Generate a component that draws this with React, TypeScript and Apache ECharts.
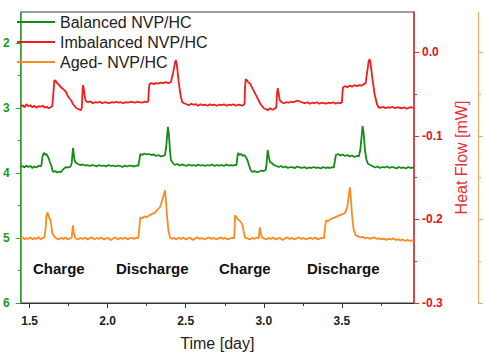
import React, { useEffect, useRef } from 'react';
import * as echarts from 'echarts';

const FONT = "'Liberation Sans', Arial, sans-serif";

const X_MIN = 1.443;
const X_MAX = 3.962;
const xMajorTicks = [1.5, 2.0, 2.5, 3.0, 3.5];
const xMinorTicks = [1.75, 2.25, 2.75, 3.25, 3.75];

const greenMin = 1.523;
const greenMax = 6;
const greenMajorTicks = [2, 3, 4, 5, 6];
const greenMinorTicks = [2.5, 3.5, 4.5, 5.5];

const heatMin = -0.3;
const heatMax = 0.048;
const heatMajorTicks = [-0.3, -0.2, -0.1, 0.0];
const heatMinorTicks = [-0.25, -0.15, -0.05];

const seriesNames = ['Balanced NVP/HC', 'Imbalanced NVP/HC', 'Aged- NVP/HC'];
const annotations = ['Charge', 'Discharge', 'Charge', 'Discharge'];

const balancedData: [number, number][] = [
  [1.443, 3.908], [1.455, 3.892], [1.468, 3.915], [1.48, 3.885], [1.492, 3.908], [1.505, 3.892],
  [1.518, 3.923], [1.53, 3.9], [1.545, 3.915], [1.558, 3.885], [1.57, 3.9], [1.576, 3.877],
  [1.582, 3.754], [1.588, 3.708], [1.595, 3.692], [1.602, 3.723], [1.608, 3.708], [1.615, 3.738],
  [1.622, 3.77], [1.63, 3.83], [1.64, 3.892], [1.646, 3.954], [1.652, 3.985], [1.665, 3.97],
  [1.677, 3.992], [1.69, 3.977], [1.7, 3.985], [1.709, 3.962], [1.72, 3.93], [1.735, 3.908],
  [1.75, 3.915], [1.762, 3.9], [1.77, 3.846], [1.775, 3.7], [1.778, 3.615], [1.782, 3.69],
  [1.788, 3.8], [1.797, 3.846], [1.81, 3.862], [1.825, 3.877], [1.84, 3.869], [1.855, 3.885],
  [1.87, 3.877], [1.885, 3.892], [1.9, 3.877], [1.915, 3.885], [1.93, 3.9], [1.945, 3.877],
  [1.96, 3.892], [1.975, 3.885], [1.99, 3.9], [2.005, 3.877], [2.02, 3.892], [2.035, 3.885],
  [2.05, 3.9], [2.065, 3.885], [2.08, 3.892], [2.095, 3.908], [2.11, 3.885], [2.125, 3.9],
  [2.14, 3.885], [2.155, 3.892], [2.17, 3.9], [2.185, 3.885], [2.196, 3.892], [2.203, 3.8],
  [2.209, 3.708], [2.22, 3.723], [2.235, 3.7], [2.25, 3.715], [2.265, 3.708], [2.28, 3.723],
  [2.295, 3.715], [2.31, 3.738], [2.325, 3.723], [2.34, 3.746], [2.355, 3.738], [2.367, 3.723],
  [2.375, 3.6], [2.38, 3.45], [2.386, 3.292], [2.392, 3.4], [2.399, 3.65], [2.405, 3.8],
  [2.418, 3.846], [2.43, 3.877], [2.445, 3.862], [2.46, 3.885], [2.475, 3.869], [2.49, 3.877],
  [2.505, 3.892], [2.52, 3.869], [2.535, 3.885], [2.55, 3.877], [2.565, 3.892], [2.58, 3.869],
  [2.595, 3.885], [2.61, 3.877], [2.625, 3.892], [2.64, 3.877], [2.655, 3.885], [2.67, 3.869],
  [2.685, 3.892], [2.7, 3.877], [2.715, 3.885], [2.73, 3.877], [2.745, 3.892], [2.76, 3.869],
  [2.775, 3.885], [2.79, 3.877], [2.805, 3.885], [2.815, 3.877], [2.825, 3.877], [2.83, 3.78],
  [2.835, 3.692], [2.845, 3.723], [2.855, 3.708], [2.865, 3.738], [2.875, 3.723], [2.885, 3.754],
  [2.895, 3.8], [2.905, 3.877], [2.915, 3.95], [2.925, 3.985], [2.94, 3.97], [2.955, 3.985],
  [2.97, 3.977], [2.985, 3.962], [3.0, 3.97], [3.012, 3.954], [3.018, 3.85], [3.025, 3.646],
  [3.032, 3.75], [3.04, 3.83], [3.051, 3.846], [3.065, 3.877], [3.08, 3.892], [3.095, 3.908],
  [3.11, 3.892], [3.125, 3.915], [3.14, 3.9], [3.155, 3.923], [3.17, 3.908], [3.185, 3.915],
  [3.2, 3.923], [3.215, 3.9], [3.23, 3.915], [3.245, 3.923], [3.26, 3.908], [3.275, 3.931],
  [3.29, 3.915], [3.305, 3.923], [3.32, 3.908], [3.335, 3.923], [3.35, 3.915], [3.365, 3.931],
  [3.38, 3.908], [3.395, 3.923], [3.41, 3.915], [3.425, 3.923], [3.44, 3.908], [3.449, 3.915],
  [3.456, 3.8], [3.462, 3.723], [3.475, 3.708], [3.49, 3.73], [3.505, 3.715], [3.52, 3.738],
  [3.535, 3.723], [3.55, 3.746], [3.565, 3.73], [3.58, 3.754], [3.595, 3.738], [3.608, 3.746],
  [3.618, 3.65], [3.626, 3.45], [3.633, 3.277], [3.64, 3.4], [3.648, 3.65], [3.658, 3.8],
  [3.668, 3.862], [3.684, 3.877], [3.7, 3.9], [3.715, 3.915], [3.73, 3.9], [3.745, 3.923],
  [3.76, 3.908], [3.775, 3.915], [3.79, 3.9], [3.805, 3.923], [3.82, 3.908], [3.835, 3.915],
  [3.85, 3.931], [3.865, 3.908], [3.88, 3.923], [3.895, 3.915], [3.91, 3.931], [3.925, 3.908],
  [3.94, 3.923], [3.962, 3.915],
];

const imbalancedData: [number, number][] = [
  [1.443, -0.0647], [1.455, -0.0635], [1.468, -0.0659], [1.48, -0.0623], [1.492, -0.0647],
  [1.505, -0.0635], [1.518, -0.0659], [1.53, -0.0641], [1.545, -0.0665], [1.558, -0.0647],
  [1.57, -0.0653], [1.585, -0.0641], [1.598, -0.0665], [1.61, -0.0653], [1.622, -0.0671],
  [1.635, -0.0659], [1.645, -0.0647], [1.652, -0.05], [1.658, -0.0347], [1.665, -0.0335],
  [1.671, -0.0359], [1.677, -0.0371], [1.69, -0.0395], [1.7, -0.0419], [1.709, -0.0431],
  [1.722, -0.0455], [1.734, -0.0479], [1.745, -0.0527], [1.755, -0.0551], [1.766, -0.0575],
  [1.778, -0.0623], [1.79, -0.0647], [1.8, -0.0671], [1.815, -0.0683], [1.829, -0.0695],
  [1.835, -0.0659], [1.84, -0.0431], [1.843, -0.0395], [1.848, -0.0455], [1.855, -0.0551],
  [1.861, -0.0587], [1.875, -0.0599], [1.89, -0.0587], [1.905, -0.0611], [1.92, -0.0599],
  [1.935, -0.0605], [1.95, -0.0593], [1.965, -0.0611], [1.98, -0.0599], [1.995, -0.0605],
  [2.01, -0.0611], [2.025, -0.0599], [2.04, -0.0605], [2.055, -0.0593], [2.07, -0.0605],
  [2.085, -0.0599], [2.1, -0.0611], [2.115, -0.0599], [2.13, -0.0605], [2.145, -0.0593],
  [2.16, -0.0599], [2.175, -0.0605], [2.19, -0.0593], [2.2, -0.0599], [2.22, -0.0605],
  [2.235, -0.0593], [2.25, -0.0599], [2.26, -0.0587], [2.264, -0.045], [2.268, -0.0383],
  [2.28, -0.0371], [2.295, -0.0383], [2.31, -0.0371], [2.325, -0.0377], [2.34, -0.0365],
  [2.355, -0.0371], [2.37, -0.0359], [2.39, -0.0371], [2.405, -0.0359], [2.42, -0.024],
  [2.432, -0.012], [2.437, -0.0096], [2.443, -0.0144], [2.455, -0.0359], [2.468, -0.0527],
  [2.478, -0.0599], [2.49, -0.0611], [2.505, -0.0623], [2.52, -0.0635], [2.535, -0.0617],
  [2.55, -0.0629], [2.565, -0.0623], [2.58, -0.0641], [2.595, -0.0623], [2.61, -0.0635],
  [2.625, -0.0629], [2.64, -0.0641], [2.655, -0.0623], [2.67, -0.0635], [2.685, -0.0629],
  [2.7, -0.0641], [2.715, -0.0629], [2.73, -0.0635], [2.745, -0.0623], [2.76, -0.0641],
  [2.775, -0.0629], [2.79, -0.0635], [2.805, -0.0623], [2.82, -0.0641], [2.835, -0.0629],
  [2.85, -0.0635], [2.862, -0.0641], [2.872, -0.0629], [2.877, -0.0611], [2.88, -0.042],
  [2.884, -0.0323], [2.892, -0.0335], [2.9, -0.0359], [2.91, -0.0371], [2.92, -0.0407],
  [2.93, -0.0443], [2.94, -0.0479], [2.95, -0.0515], [2.96, -0.0551], [2.97, -0.0587],
  [2.98, -0.0623], [2.99, -0.0647], [3.0, -0.0671], [3.015, -0.0683], [3.025, -0.0695],
  [3.04, -0.0671], [3.055, -0.0689], [3.07, -0.0677], [3.08, -0.0659], [3.085, -0.05],
  [3.089, -0.0431], [3.095, -0.0491], [3.102, -0.0575], [3.114, -0.0599], [3.13, -0.0611],
  [3.145, -0.0599], [3.16, -0.0605], [3.175, -0.0593], [3.19, -0.0599], [3.205, -0.0587],
  [3.22, -0.0581], [3.235, -0.0593], [3.25, -0.0605], [3.265, -0.0611], [3.28, -0.0599],
  [3.295, -0.0617], [3.31, -0.0605], [3.325, -0.0611], [3.34, -0.0599], [3.355, -0.0617],
  [3.37, -0.0605], [3.385, -0.0611], [3.4, -0.0617], [3.415, -0.0605], [3.43, -0.0611],
  [3.445, -0.0599], [3.46, -0.0617], [3.475, -0.0605], [3.49, -0.0611], [3.5, -0.0605],
  [3.504, -0.048], [3.508, -0.0419], [3.52, -0.0407], [3.535, -0.0419], [3.55, -0.0401],
  [3.565, -0.0413], [3.58, -0.0395], [3.595, -0.0407], [3.61, -0.0395], [3.625, -0.0401],
  [3.64, -0.0383], [3.652, -0.0371], [3.662, -0.024], [3.672, -0.0108], [3.677, -0.0084],
  [3.683, -0.012], [3.695, -0.0311], [3.71, -0.0503], [3.725, -0.0623], [3.734, -0.0659],
  [3.75, -0.0665], [3.765, -0.0653], [3.78, -0.0671], [3.795, -0.0659], [3.81, -0.0665],
  [3.825, -0.0653], [3.84, -0.0671], [3.855, -0.0659], [3.87, -0.0665], [3.885, -0.0671],
  [3.9, -0.0659], [3.915, -0.0677], [3.93, -0.0665], [3.945, -0.0659], [3.962, -0.0671],
];

const agedData: [number, number][] = [
  [1.443, -0.2228], [1.455, -0.2216], [1.468, -0.224], [1.48, -0.2222], [1.492, -0.2234],
  [1.505, -0.2216], [1.518, -0.224], [1.53, -0.2222], [1.545, -0.2234], [1.558, -0.221],
  [1.57, -0.224], [1.582, -0.2222], [1.595, -0.2216], [1.603, -0.21], [1.608, -0.196],
  [1.614, -0.1916], [1.62, -0.1952], [1.627, -0.1988], [1.633, -0.2], [1.64, -0.209],
  [1.646, -0.2168], [1.658, -0.2204], [1.671, -0.2228], [1.685, -0.224], [1.7, -0.2222],
  [1.715, -0.2234], [1.73, -0.2216], [1.745, -0.224], [1.76, -0.2228], [1.77, -0.2216],
  [1.775, -0.212], [1.778, -0.2072], [1.782, -0.215], [1.79, -0.221], [1.797, -0.2228],
  [1.81, -0.224], [1.825, -0.2222], [1.84, -0.2234], [1.855, -0.2216], [1.87, -0.224],
  [1.885, -0.2228], [1.9, -0.2216], [1.915, -0.224], [1.93, -0.2222], [1.945, -0.2234],
  [1.96, -0.2216], [1.975, -0.224], [1.99, -0.2228], [2.005, -0.2222], [2.02, -0.2246],
  [2.035, -0.2228], [2.05, -0.2216], [2.065, -0.224], [2.08, -0.2222], [2.095, -0.2234],
  [2.11, -0.2216], [2.125, -0.224], [2.14, -0.2228], [2.155, -0.2222], [2.17, -0.2234],
  [2.185, -0.2216], [2.196, -0.2228], [2.203, -0.21], [2.209, -0.1976], [2.22, -0.1988],
  [2.235, -0.1964], [2.25, -0.1976], [2.265, -0.1952], [2.28, -0.194], [2.291, -0.1928],
  [2.305, -0.1916], [2.32, -0.188], [2.335, -0.1856], [2.345, -0.18], [2.354, -0.1737],
  [2.36, -0.17], [2.367, -0.1653], [2.373, -0.176], [2.38, -0.195], [2.388, -0.212],
  [2.399, -0.2216], [2.41, -0.2234], [2.425, -0.2222], [2.44, -0.224], [2.455, -0.2222],
  [2.47, -0.2234], [2.485, -0.2216], [2.5, -0.224], [2.515, -0.2228], [2.53, -0.2222],
  [2.545, -0.2246], [2.56, -0.2228], [2.575, -0.2216], [2.59, -0.2234], [2.605, -0.2222],
  [2.62, -0.224], [2.635, -0.2228], [2.65, -0.2216], [2.665, -0.2234], [2.68, -0.2222],
  [2.695, -0.224], [2.71, -0.2228], [2.725, -0.2216], [2.74, -0.2234], [2.755, -0.2222],
  [2.77, -0.224], [2.785, -0.2228], [2.8, -0.2222], [2.81, -0.2228], [2.813, -0.21],
  [2.816, -0.1952], [2.825, -0.1976], [2.835, -0.2], [2.85, -0.2024], [2.862, -0.206],
  [2.872, -0.215], [2.88, -0.2216], [2.895, -0.2228], [2.91, -0.224], [2.925, -0.2222],
  [2.94, -0.2234], [2.955, -0.2216], [2.968, -0.2228], [2.972, -0.215], [2.975, -0.2096],
  [2.98, -0.216], [2.988, -0.221], [3.0, -0.2228], [3.015, -0.224], [3.03, -0.2222],
  [3.045, -0.2234], [3.06, -0.2216], [3.075, -0.224], [3.09, -0.2228], [3.105, -0.2222],
  [3.12, -0.2246], [3.135, -0.2228], [3.15, -0.2216], [3.165, -0.2234], [3.18, -0.2222],
  [3.195, -0.224], [3.21, -0.2228], [3.225, -0.2216], [3.24, -0.2234], [3.255, -0.2222],
  [3.27, -0.224], [3.285, -0.2228], [3.3, -0.2222], [3.315, -0.2234], [3.33, -0.2216],
  [3.345, -0.224], [3.36, -0.2228], [3.375, -0.2222], [3.386, -0.2228], [3.392, -0.21],
  [3.399, -0.2012], [3.41, -0.2024], [3.425, -0.2], [3.44, -0.1988], [3.455, -0.1976],
  [3.47, -0.1964], [3.485, -0.1952], [3.5, -0.194], [3.515, -0.1928], [3.525, -0.1904],
  [3.535, -0.185], [3.545, -0.17], [3.551, -0.1617], [3.558, -0.175], [3.565, -0.195],
  [3.575, -0.212], [3.589, -0.2192], [3.605, -0.2204], [3.62, -0.2216], [3.635, -0.221],
  [3.65, -0.2228], [3.665, -0.2216], [3.68, -0.2234], [3.695, -0.2222], [3.71, -0.2216],
  [3.725, -0.2234], [3.74, -0.2228], [3.755, -0.224], [3.77, -0.2228], [3.785, -0.2246],
  [3.8, -0.2234], [3.815, -0.224], [3.83, -0.2228], [3.845, -0.2246], [3.86, -0.224],
  [3.875, -0.2252], [3.89, -0.224], [3.905, -0.2258], [3.92, -0.2246], [3.935, -0.2258],
  [3.95, -0.2252], [3.962, -0.2258],
];

const GREEN = '#138c13';
const RED = '#f21c1c';
const ORANGE = '#ff8a1f';
const GREEN_AXIS = '#34a834';
const RED_AXIS = '#e8303a';
const ORANGE_AXIS = '#f2ac66';

function hiddenMinorY(position: string, color: string, min: number, max: number, values: number[], extra: any = {}) {
  return {
    type: 'value',
    position,
    min,
    max,
    ...extra,
    axisLine: { show: false, onZero: false },
    axisTick: { show: true, length: 3, customValues: values, lineStyle: { color, width: 1 } },
    axisLabel: { show: false },
    splitLine: { show: false },
  };
}

export default function App() {
  const ref = useRef<HTMLDivElement>(null);
  useEffect(() => {
    const chart = echarts.init(ref.current!, null, { renderer: 'svg' });
    const option: any = {
      animation: false,
      textStyle: { fontFamily: FONT },
      grid: {
        left: 16, right: 71, top: 12, bottom: 57,
        show: true, borderColor: '#3a3a3a', borderWidth: 1, backgroundColor: 'transparent',
      },
      legend: {
        orient: 'vertical', left: 17, top: 13, padding: 0,
        itemWidth: 38, itemHeight: 2, itemGap: 2, icon: 'rect',
        textStyle: { fontSize: 16, color: '#222', lineHeight: 18, fontFamily: FONT },
        data: seriesNames,
      },
      xAxis: [
        {
          type: 'value', position: 'bottom', min: X_MIN, max: X_MAX,
          name: 'Time [day]', nameLocation: 'middle', nameGap: 32,
          nameTextStyle: { fontSize: 16, color: '#222', fontFamily: FONT },
          axisLine: { show: true, onZero: false, lineStyle: { color: '#333', width: 1 } },
          axisTick: { show: true, length: 5, customValues: xMajorTicks, lineStyle: { color: '#333' } },
          axisLabel: {
            customValues: xMajorTicks, formatter: (v: number) => v.toFixed(1),
            fontSize: 12, fontWeight: 'bold', color: '#222', margin: 12, fontFamily: FONT,
          },
          splitLine: { show: false },
        },
        {
          type: 'value', position: 'bottom', min: X_MIN, max: X_MAX,
          axisLine: { show: false, onZero: false },
          axisTick: { show: true, length: 3, customValues: xMinorTicks, lineStyle: { color: '#333' } },
          axisLabel: { show: false },
          splitLine: { show: false },
        },
      ],
      yAxis: [
        {
          type: 'value', position: 'left', inverse: true, min: greenMin, max: greenMax,
          axisLine: { show: true, onZero: false, lineStyle: { color: GREEN_AXIS, width: 1.5 } },
          axisTick: { show: true, length: 5, customValues: greenMajorTicks, lineStyle: { color: GREEN_AXIS } },
          axisLabel: {
            customValues: greenMajorTicks, color: '#1b9a1b', fontWeight: 'bold', fontSize: 12,
            margin: 11, fontFamily: FONT,
          },
          splitLine: { show: false },
        },
        hiddenMinorY('left', GREEN_AXIS, greenMin, greenMax, greenMinorTicks, { inverse: true }),
        {
          type: 'value', position: 'right', min: heatMin, max: heatMax,
          name: 'Heat Flow [mW]', nameLocation: 'middle', nameGap: 34, nameRotate: 90,
          nameTextStyle: { fontSize: 16, color: RED_AXIS, fontFamily: FONT },
          axisLine: { show: true, onZero: false, lineStyle: { color: RED_AXIS, width: 1.5 } },
          axisTick: { show: true, length: 5, customValues: heatMajorTicks, lineStyle: { color: RED_AXIS } },
          axisLabel: {
            customValues: heatMajorTicks, formatter: (v: number) => (Math.abs(v) < 1e-9 ? '0.0' : v.toFixed(1)),
            color: '#e3141c', fontWeight: 'bold', fontSize: 12, margin: 8, fontFamily: FONT,
          },
          splitLine: { show: false },
        },
        hiddenMinorY('right', RED_AXIS, heatMin, heatMax, heatMinorTicks),
        {
          type: 'value', position: 'right', offset: 64, min: heatMin, max: heatMax,
          axisLine: { show: true, onZero: false, lineStyle: { color: ORANGE_AXIS, width: 1.2 } },
          axisTick: { show: true, length: 5, customValues: heatMajorTicks, lineStyle: { color: ORANGE_AXIS } },
          axisLabel: { show: false },
          splitLine: { show: false },
        },
        hiddenMinorY('right', ORANGE_AXIS, heatMin, heatMax, heatMinorTicks, { offset: 64 }),
      ],
      series: [
        {
          name: seriesNames[0], type: 'line', xAxisIndex: 0, yAxisIndex: 0, data: balancedData,
          showSymbol: false, color: GREEN, lineStyle: { color: GREEN, width: 1.8 },
        },
        {
          name: seriesNames[1], type: 'line', xAxisIndex: 0, yAxisIndex: 2, data: imbalancedData,
          showSymbol: false, color: RED, lineStyle: { color: RED, width: 1.8 },
        },
        {
          name: seriesNames[2], type: 'line', xAxisIndex: 0, yAxisIndex: 4, data: agedData,
          showSymbol: false, color: ORANGE, lineStyle: { color: ORANGE, width: 1.8 },
        },
      ],
      graphic: [
        { x: 33, y: 268 },
        { x: 116, y: 268 },
        { x: 219, y: 268 },
        { x: 307, y: 268 },
      ].map((p, i) => ({
        type: 'text', x: p.x, y: p.y,
        style: {
          text: annotations[i], fontSize: 15, fontWeight: 'bold', fontFamily: FONT,
          fill: '#111', align: 'left', verticalAlign: 'middle',
        },
      })),
    };
    chart.setOption(option);
    return () => chart.dispose();
  }, []);
  return (
    <div
      ref={ref}
      style={{ position: 'fixed', left: 0, top: 0, width: 485, height: 360, background: '#fff' }}
    />
  );
}
